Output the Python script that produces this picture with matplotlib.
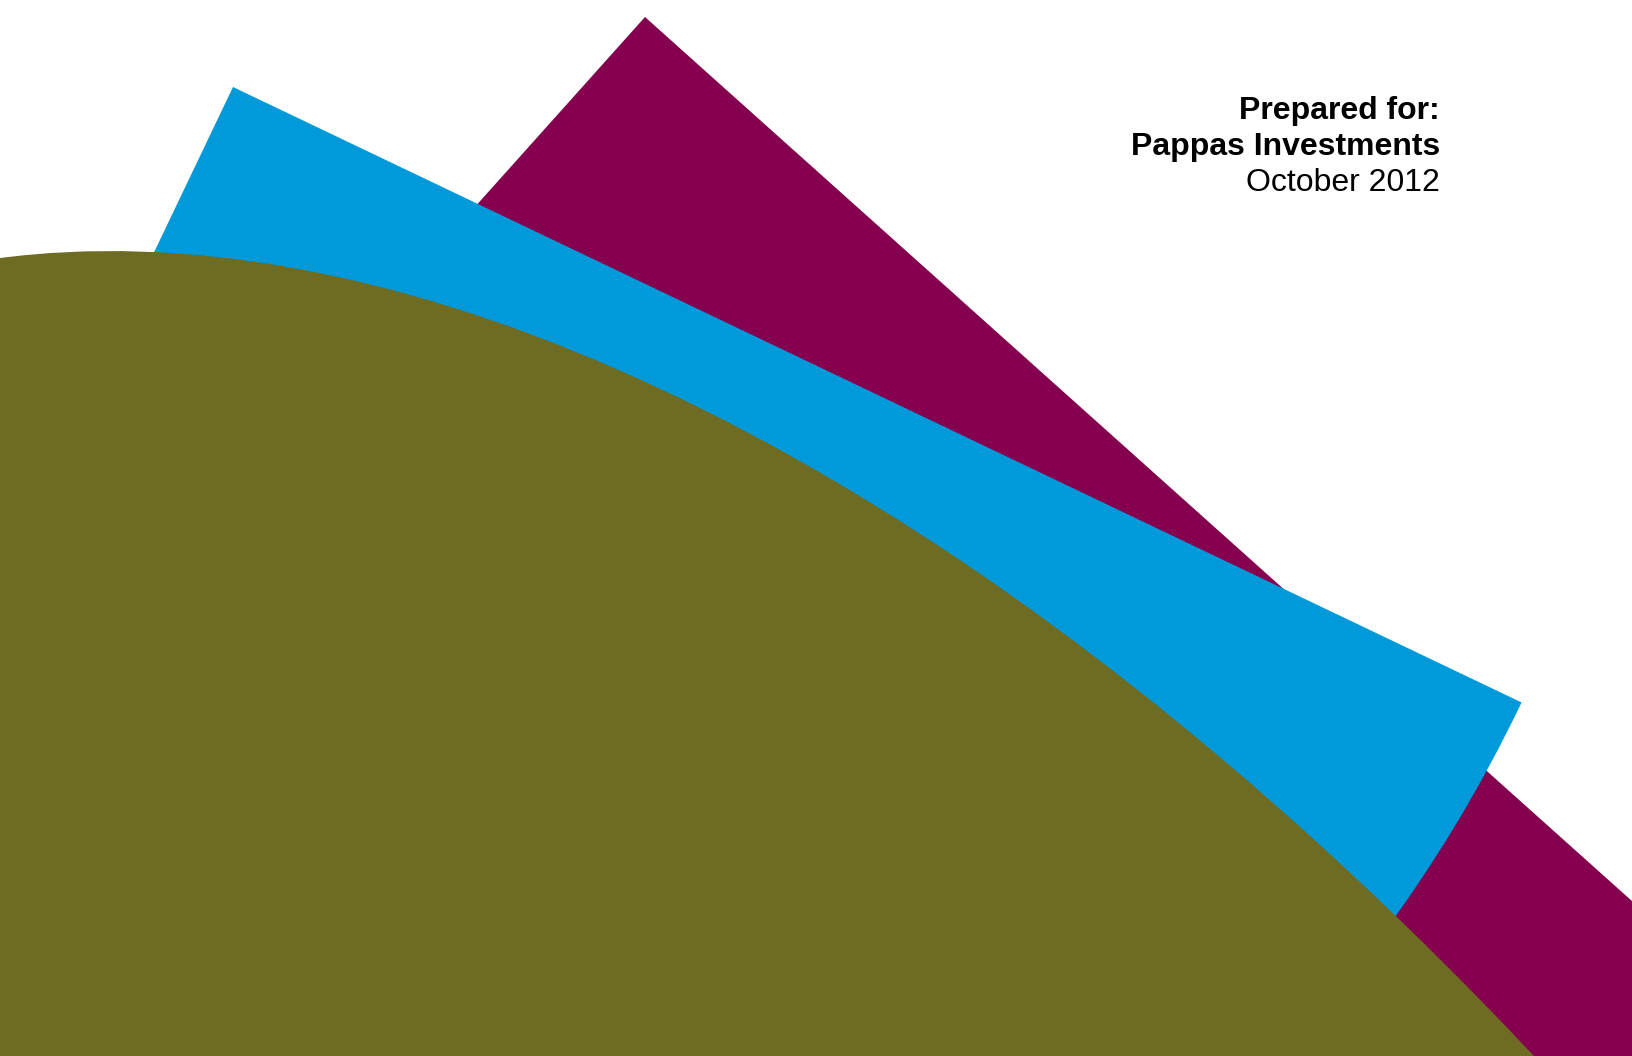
import matplotlib
matplotlib.use("Agg")
import matplotlib.pyplot as plt
from matplotlib.patches import Wedge, Ellipse

W, H = 1632, 1056

# Decorative shapes (pixel space of the cover page)
wedge_names = ["purple", "blue"]
wedge_centers = [(645, 17), (233, 87)]
wedge_radii = [1460, 1428]
wedge_theta1 = [41.85, 25.53]
wedge_theta2 = [131.85, 115.53]
wedge_colors = ["#85004E", "#0099DA"]

olive_center = (1054.3, 2695.7)
olive_axes = (2 * 1360.6, 2 * 2695.7)
olive_angle = 150.78
olive_color = "#6E6B22"

text_lines = ["Prepared for:", "Pappas Investments", "October 2012"]
text_weights = ["bold", "bold", "normal"]

fig = plt.figure(figsize=(W / 100, H / 100), dpi=100)
ax = fig.add_axes([0, 0, 1, 1])
ax.set_xlim(0, W)
ax.set_ylim(H, 0)
ax.axis("off")

for c, r, t1, t2, col in zip(wedge_centers, wedge_radii, wedge_theta1, wedge_theta2, wedge_colors):
    ax.add_patch(Wedge(c, r, t1, t2, color=col, lw=0))
ax.add_patch(Ellipse(olive_center, olive_axes[0], olive_axes[1], angle=olive_angle,
                     color=olive_color, lw=0))

baselines = [119, 155, 191]
for s, w, b in zip(text_lines, text_weights, baselines):
    ax.text(1440, b, s, ha="right", va="baseline", fontsize=23, fontweight=w,
            family="Liberation Sans", color="black")

fig.savefig("out.png", dpi=100)
